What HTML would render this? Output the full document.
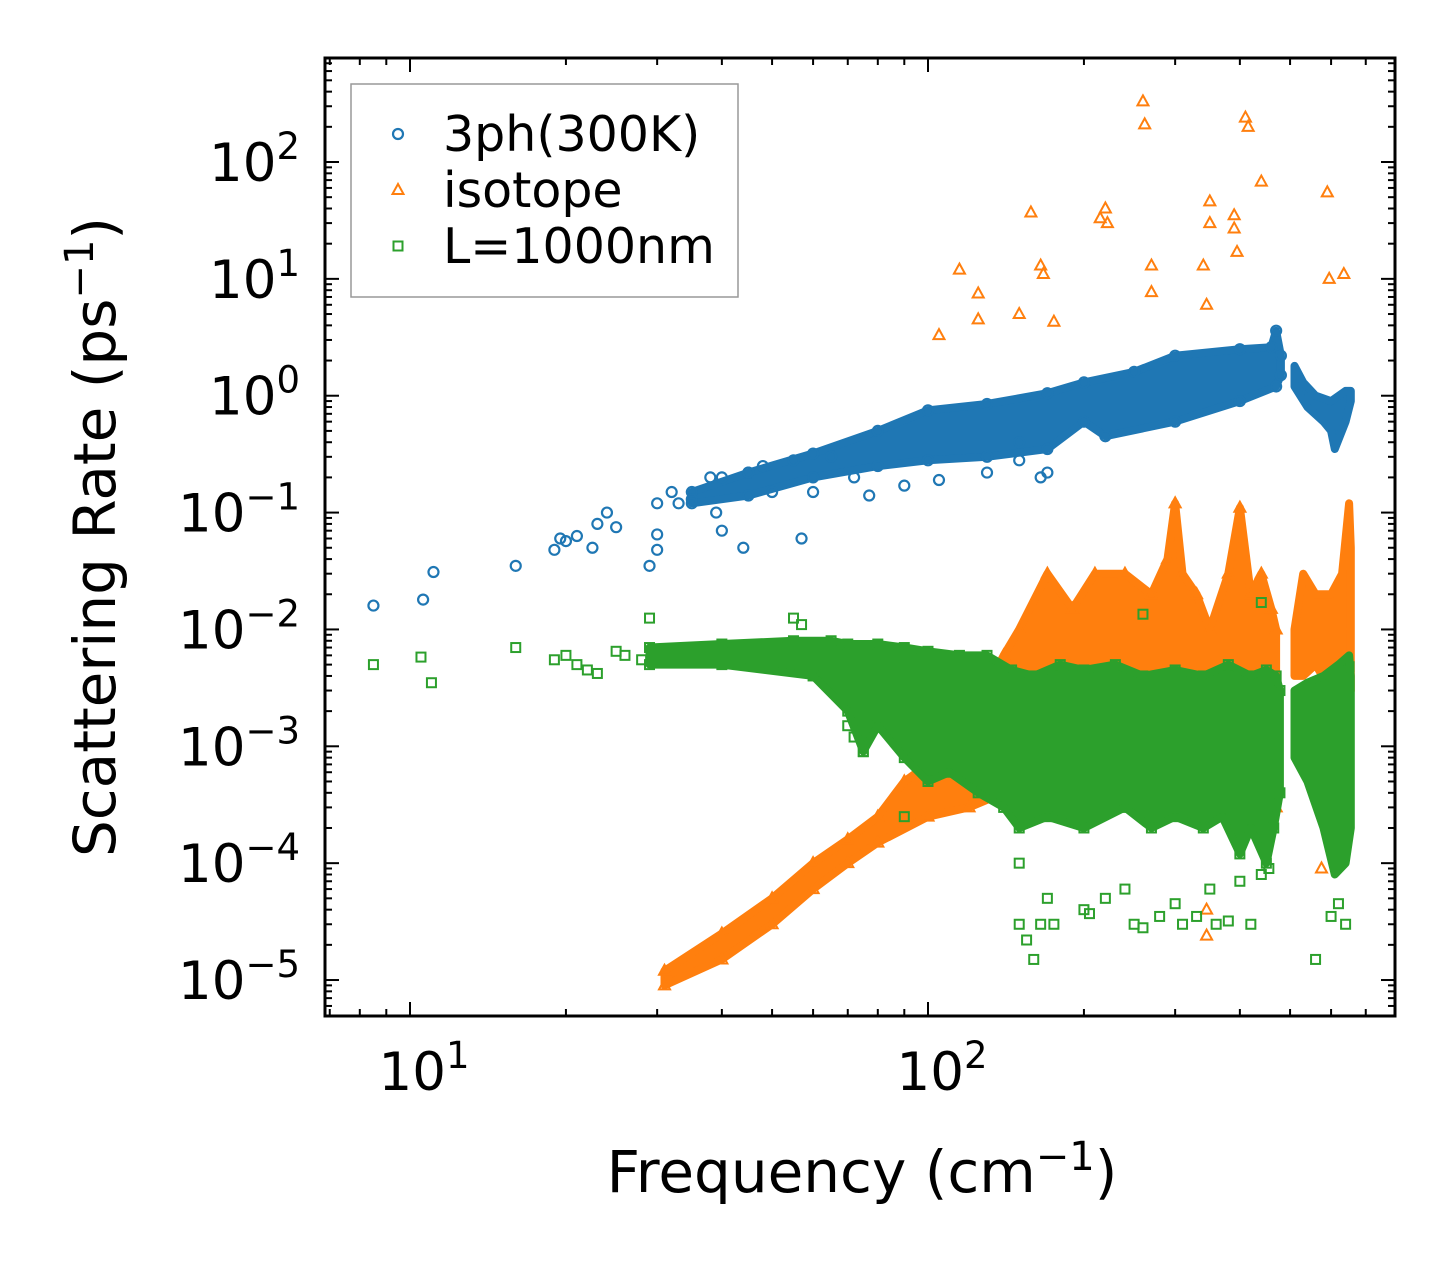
<!DOCTYPE html>
<html><head><meta charset="utf-8"><style>
html,body{margin:0;padding:0;background:#fff;}
svg text{font-family:"DejaVu Sans","Liberation Sans",sans-serif;fill:#000;}
</style></head><body>
<svg id="chart" width="1455" height="1265" viewBox="0 0 1455 1265" xmlns="http://www.w3.org/2000/svg">
<g id="marks"></g>
<g id="axes"></g>
</svg>
<script>
// ---- data (frequency cm^-1, rate ps^-1) ----
const xTickVals=[10,100];
const yTickVals=[1e2,1e1,1e0,1e-1,1e-2,1e-3,1e-4,1e-5];
const yTickExp=["2","1","0","\u22121","\u22122","\u22123","\u22124","\u22125"];
const xTickExp=["1","2"];

const blueF=[8.5,10.6,11.1,16,19,19.5,20,21,22.5,23,24,25,29,30,30,30,32,33,35,38,39,40,44,57,50,60,72,77,90,105,130,150,165,170,150,40,45,48,55,65];
const blueR=[0.016,0.018,0.031,0.035,0.048,0.06,0.057,0.063,0.05,0.08,0.1,0.075,0.035,0.048,0.065,0.12,0.15,0.12,0.13,0.2,0.1,0.07,0.05,0.06,0.15,0.15,0.2,0.14,0.17,0.19,0.22,0.28,0.2,0.22,0.4,0.2,0.22,0.25,0.28,0.3];
const blueBandF1=[35,45,60,80,100,130,170,200,250,300,400,460,470,480,480,470,400,300,220,200,170,130,100,80,60,45,35];
const blueBandR1=[0.15,0.22,0.32,0.5,0.75,0.85,1.05,1.3,1.6,2.2,2.5,2.6,3.6,2.2,1.5,1.2,0.9,0.6,0.45,0.6,0.35,0.3,0.28,0.25,0.2,0.14,0.12];
const blueBandF2=[510,530,560,600,640,655,655,640,610,600,580,540,510];
const blueBandR2=[1.8,1.3,1.0,0.9,1.1,1.1,0.9,0.6,0.35,0.5,0.6,0.8,1.2];

const orangeF=[105,115,125,125,150,158,165,167,175,215,220,222,260,262,270,270,340,345,350,350,390,390,395,410,415,440,590,595,635,345,345,145,575];
const orangeR=[3.3,12,7.5,4.5,5,37,13,11,4.3,33,40,30,330,210,13,7.7,13,6,46,30,35,27,17,240,200,68,55,10,11,4e-5,2.4e-5,4e-4,9e-5];
const orangeBandF1=[31,40,50,60,70,80,90,100,120,140,140,150,170,190,210,240,270,290,300,310,330,350,380,400,420,440,460,470,470,440,400,300,200,140,120,100,80,70,60,50,40,31];
const orangeBandR1=[1.2e-5,2.5e-5,5e-5,1e-4,1.6e-4,2.5e-4,5e-4,7e-4,8e-4,1e-3,0.006,0.01,0.03,0.015,0.03,0.03,0.02,0.04,0.12,0.03,0.02,0.01,0.03,0.11,0.02,0.03,0.015,0.01,3e-4,5e-4,1e-3,1e-3,8e-4,4e-4,3e-4,2.5e-4,1.5e-4,1e-4,6e-5,3e-5,1.5e-5,9e-6];
const orangeBandF2=[510,530,560,600,630,650,655,655,640,600,560,530,510];
const orangeBandR2=[0.01,0.03,0.02,0.02,0.03,0.12,0.05,0.003,0.002,0.003,0.005,0.004,0.004];

const greenF=[8.5,10.5,11,16,19,20,21,22,23,25,26,28,29,55,57,70,72,75,90,150,155,160,165,170,175,200,205,220,240,250,260,280,300,310,330,350,360,380,400,420,440,455,150,260,440,560,600,620,640,650];
const greenR=[0.005,0.0058,0.0035,0.007,0.0055,0.006,0.005,0.0045,0.0042,0.0065,0.006,0.0055,0.0125,0.0125,0.011,0.0015,0.0012,0.0009,0.00025,3e-5,2.2e-5,1.5e-5,3e-5,5e-5,3e-5,4e-5,3.7e-5,5e-5,6e-5,3e-5,2.8e-5,3.5e-5,4.5e-5,3e-5,3.5e-5,6e-5,3e-5,3.2e-5,7e-5,3e-5,8e-5,9e-5,1e-4,0.0135,0.017,1.5e-5,3.5e-5,4.5e-5,3e-5,0.0048];
const greenBandF1=[29,40,55,65,70,80,90,100,115,130,145,160,180,200,230,260,300,340,380,420,450,470,478,478,465,450,420,400,370,340,300,270,240,200,170,150,140,125,110,100,90,80,75,70,60,40,29];
const greenBandR1=[0.007,0.0075,0.008,0.008,0.0075,0.0075,0.007,0.0065,0.006,0.006,0.0045,0.004,0.005,0.0045,0.005,0.004,0.0045,0.004,0.005,0.004,0.0045,0.004,0.003,0.0004,0.0002,0.0001,0.0002,0.00012,0.00025,0.0002,0.00025,0.0002,0.0003,0.0002,0.00025,0.0002,0.0003,0.0004,0.0006,0.0005,0.0008,0.0015,0.0009,0.002,0.004,0.005,0.005];
const greenBandF2=[510,540,580,620,650,655,655,640,610,580,540,510];
const greenBandR2=[0.003,0.0035,0.004,0.005,0.006,0.004,0.0002,0.0001,0.00008,0.0002,0.0005,0.0008];

// ---- axes mapping ----
const L=325,R=1395,T=58,B=1016;
function X(f){return 410+518*(Math.log10(f)-1);}
function Y(r){return 162+116.86*(2-Math.log10(r));}
const NS="http://www.w3.org/2000/svg";
function mk(tag,attrs,parent){const e=document.createElementNS(NS,tag);for(const k in attrs)e.setAttribute(k,attrs[k]);parent.appendChild(e);return e;}
const marks=document.getElementById('marks'),axes=document.getElementById('axes');
const BLUE="#1f77b4",ORANGE="#ff7f0e",GREEN="#2ca02c";

function band(F,Rr,color,name){
  const pts=F.map((f,i)=>X(f).toFixed(1)+","+Y(Rr[i]).toFixed(1)).join(" ");
  const p=mk('polygon',{points:pts,fill:color,stroke:color,'stroke-width':8,'stroke-linejoin':'round'},marks);
  
  
}
function marker(type,x,y,color,parent){
  let e;
  if(type==='o'){e=mk('circle',{cx:x,cy:y,r:5,fill:'none',stroke:color,'stroke-width':2.2},parent);}
  else if(type==='^'){e=mk('polygon',{points:`${x},${y-6} ${x-5.5},${y+4} ${x+5.5},${y+4}`,fill:'none',stroke:color,'stroke-width':2},parent);}
  else {e=mk('rect',{x:x-4.5,y:y-4.5,width:9,height:9,fill:'none',stroke:color,'stroke-width':2},parent);}
  return e;
}
function series(F,Rr,type,color,name){
  F.forEach((f,i)=>{const e=marker(type,X(f),Y(Rr[i]),color,marks);
    
    });
}
band(orangeBandF1,orangeBandR1,ORANGE,'orange-band-main');
band(orangeBandF2,orangeBandR2,ORANGE,'orange-band-high');
series(orangeBandF1,orangeBandR1,'^',ORANGE,'orange-band-point');
series(orangeF,orangeR,'^',ORANGE,'isotope-point');
band(greenBandF1,greenBandR1,GREEN,'green-band-main');
band(greenBandF2,greenBandR2,GREEN,'green-band-high');
series(greenBandF1,greenBandR1,'s',GREEN,'green-band-point');
series(greenF,greenR,'s',GREEN,'boundary-point');
band(blueBandF1,blueBandR1,BLUE,'blue-band-main');
band(blueBandF2,blueBandR2,BLUE,'blue-band-high');
series(blueBandF1,blueBandR1,'o',BLUE,'blue-band-point');
series(blueF,blueR,'o',BLUE,'3ph-point');

// frame
const fr=mk('rect',{x:L,y:T,width:R-L,height:B-T,fill:'none',stroke:'#000','stroke-width':3},axes);


for(let d=0;d<=3;d++){for(let m=1;m<10;m++){const v=m*Math.pow(10,d);const x=X(v);if(x<L+1||x>R-1)continue;
  const len=m===1?14:7;
  const t1=mk('line',{x1:x,y1:B,x2:x,y2:B-len,stroke:'#000','stroke-width':2},axes);
  
  
  const t2=mk('line',{x1:x,y1:T,x2:x,y2:T+len,stroke:'#000','stroke-width':2},axes);
  
  }}
for(let d=-6;d<=3;d++){for(let m=1;m<10;m++){const v=m*Math.pow(10,d);const y=Y(v);if(y<T+1||y>B-1)continue;
  const len=m===1?14:7;
  const t1=mk('line',{x1:L,y1:y,x2:L+len,y2:y,stroke:'#000','stroke-width':2},axes);
  
  
  const t2=mk('line',{x1:R,y1:y,x2:R-len,y2:y,stroke:'#000','stroke-width':2},axes);
  
  }}
function powLabel(x,y,exp,anchor,name){
  const t=mk('text',{x:x,y:y,'font-size':53,'text-anchor':anchor},axes);
  
  
  t.appendChild(document.createTextNode('10'));
  const s=mk('tspan',{dy:-22,'font-size':37},t);s.textContent=exp;
}
xTickVals.forEach((v,i)=>powLabel(X(v)+14,1090,xTickExp[i],'middle','x-tick-label'));
yTickVals.forEach((v,i)=>powLabel(300,Y(v)+19,yTickExp[i],'end','y-tick-label'));
const xt=mk('text',{x:862,y:1192,'font-size':58,'text-anchor':'middle'},axes);


xt.appendChild(document.createTextNode('Frequency (cm'));
mk('tspan',{dy:-22,'font-size':40},xt).textContent='\u22121';
mk('tspan',{dy:22},xt).textContent=')';
const yt=mk('text',{x:0,y:0,'font-size':58,'text-anchor':'middle',transform:'translate(115,537) rotate(-90)'},axes);


yt.appendChild(document.createTextNode('Scattering Rate (ps'));
mk('tspan',{dy:-22,'font-size':40},yt).textContent='\u22121';
mk('tspan',{dy:22},yt).textContent=')';
const lg=mk('g',{},axes);


mk('rect',{x:351,y:84,width:387,height:213,fill:'#fff',stroke:'#999','stroke-width':1.5},lg);
const legLabels=["3ph(300K)","isotope","L=1000nm"];
const legTypes=['o','^','s'],legColors=[BLUE,ORANGE,GREEN];
legLabels.forEach((lab,i)=>{const y=134+i*56;
  const m=marker(legTypes[i],398,y,legColors[i],lg);
  
  
  const t=mk('text',{x:443,y:y+17,'font-size':49},lg);t.textContent=lab;
  
  });
</script>
</body></html>
